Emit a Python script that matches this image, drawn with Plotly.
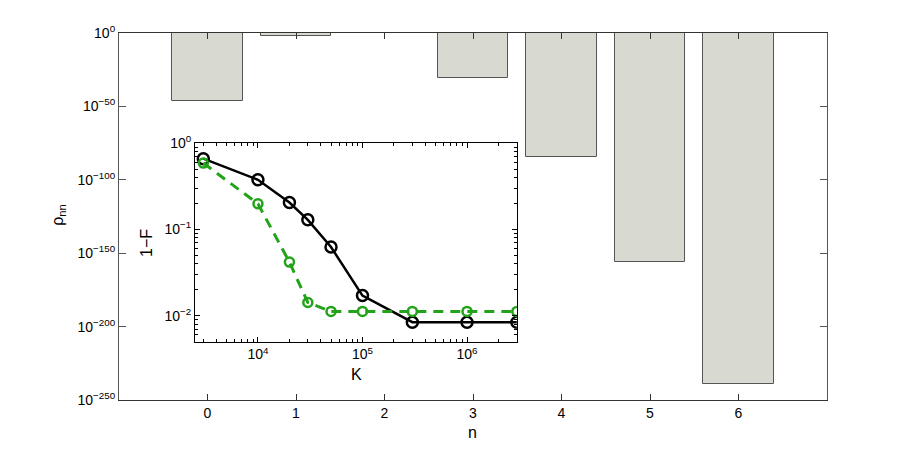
import plotly.graph_objects as go

# main bar data
n_vals = [0, 1, 2, 3, 4, 5, 6]
rho_nn = [10**-46.6, 10**-2.2, None, 10**-30.7, 10**-84.8, 10**-156.1, 10**-239.3]
rho_top = 1.0

# inset data
K_vals = [3e3, 1e4, 2e4, 3e4, 5e4, 1e5, 3e5, 1e6, 3e6]
infid_black = [0.66, 0.376, 0.205, 0.129, 0.0624, 0.0171, 0.0084, 0.0084, 0.0084]
infid_green = [0.587, 0.198, 0.0418, 0.0142, 0.0112, 0.0112, 0.0112, 0.0112, 0.0112]

main_ytick_exp = [0, -50, -100, -150, -200, -250]
inset_ytick_exp = [0, -1, -2]
inset_xtick_exp = [4, 5, 6]

FONT = "Liberation Sans, Arial, Helvetica, sans-serif"
GREEN = "#22a31a"

bx = [n for n, v in zip(n_vals, rho_nn) if v is not None]
bv = [v for v in rho_nn if v is not None]

fig = go.Figure()
fig.add_trace(go.Bar(
    x=bx, base=bv, y=[rho_top - v for v in bv], width=0.8,
    marker=dict(color="#d8dad2", line=dict(color="#555555", width=1)),
    xaxis="x", yaxis="y", showlegend=False,
))
fig.add_trace(go.Scatter(
    x=K_vals, y=infid_black, mode="lines+markers",
    line=dict(color="black", width=2.5),
    marker=dict(symbol="circle-open", size=11, color="black", line=dict(width=2.5)),
    xaxis="x2", yaxis="y2", showlegend=False,
))
fig.add_trace(go.Scatter(
    x=K_vals, y=infid_green, mode="lines+markers",
    line=dict(color=GREEN, width=3, dash="10px,7px"),
    marker=dict(symbol="circle-open", size=9, color=GREEN, line=dict(width=2.5)),
    xaxis="x2", yaxis="y2", showlegend=False,
))

# plot-area edges in page pixels; page body has an 8px margin
OFF = 8
L, R, T, B = 119, 826.7, 33.3, 400.0
W, H = 913 - 2 * OFF, 450 - 2 * OFF
pw, ph = R - L, B - T

def px(x):
    return (x - L) / pw

def py(y):
    return (B - y) / ph

minor_y = [m * 10**e for e in [-3, -2, -1] for m in range(2, 10) if 0.005 <= m * 10**e < 1]
minor_x = [m * 10**e for e in [3, 4, 5, 6] for m in range(2, 10) if 2500 <= m * 10**e <= 3e6]

def label(text, x, y, angle=0, size=16):
    return dict(text=text, x=px(x), y=py(y), xref="paper", yref="paper",
                xanchor="center", yanchor="middle", showarrow=False,
                textangle=angle, font=dict(size=size))

fig.update_layout(
    width=W, height=H,
    margin=dict(l=L - OFF, r=W - (R - OFF), t=T - OFF, b=H - (B - OFF), autoexpand=False),
    paper_bgcolor="white", plot_bgcolor="white",
    font=dict(family=FONT, size=14, color="black"),
    bargap=0,
    xaxis=dict(
        domain=[0, 1], range=[-1, 7], tickvals=n_vals, ticks="inside", ticklen=6,
        tickcolor="#333", showline=True, linecolor="#333", linewidth=1.2, mirror="ticks",
        showgrid=False, zeroline=False, tickfont=dict(size=14),
    ),
    yaxis=dict(
        domain=[0, 1], type="log", range=[-250, 0],
        tickvals=[10.0**e for e in main_ytick_exp],
        ticktext=["10<sup>%s</sup>" % (str(e).replace("-", "−")) for e in main_ytick_exp],
        ticks="inside", ticklen=7, tickcolor="#555", showline=True, linecolor="#555",
        linewidth=1.2, mirror="ticks", showgrid=False, zeroline=False, tickfont=dict(size=14),
    ),
    xaxis2=dict(
        domain=[px(195), px(516.7)], anchor="y2", type="log",
        range=[3.398, 6.4771],
        tickvals=[10.0**e for e in inset_xtick_exp],
        ticktext=["10<sup>%d</sup>" % e for e in inset_xtick_exp],
        ticks="inside", ticklen=5, tickcolor="black", showline=True, linecolor="black",
        linewidth=1, mirror="ticks", showgrid=False, zeroline=False, tickfont=dict(size=14),
        minor=dict(tickvals=minor_x, ticks="inside", ticklen=3, tickcolor="black"),
    ),
    yaxis2=dict(
        domain=[py(341.7), py(143.3)], anchor="x2", type="log",
        range=[-2.301, 0],
        tickvals=[10.0**e for e in inset_ytick_exp],
        ticktext=["10<sup>%s</sup>" % (str(e).replace("-", "−")) for e in inset_ytick_exp],
        ticks="inside", ticklen=5, tickcolor="black", showline=True, linecolor="black",
        linewidth=1, mirror="ticks", showgrid=False, zeroline=False, tickfont=dict(size=14),
        minor=dict(tickvals=minor_y, ticks="inside", ticklen=3, tickcolor="black"),
    ),
    annotations=[
        label("ρ<sub>nn</sub>", 59, 215, angle=-90),
        label("n", 472, 432),
        label("K", 356, 375),
        label("1−F", 147, 243, angle=-90),
    ],
)

fig.write_html("out.html")
